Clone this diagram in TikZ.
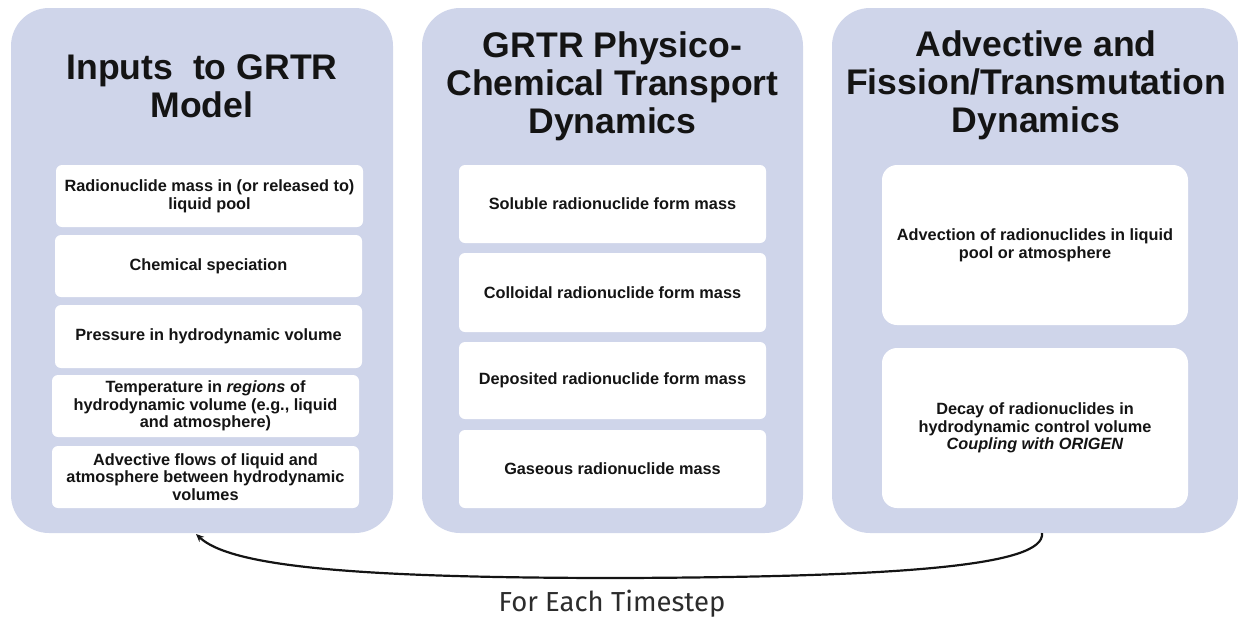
\documentclass[tikz,border=0pt]{standalone}
\usepackage{fontspec}
\setmainfont{Liberation Sans}
\newfontfamily\capfont{Fira Sans}
\usetikzlibrary{arrows.meta}
\definecolor{panel}{HTML}{CFD5EA}
\definecolor{ink}{HTML}{141414}
\begin{document}
\begin{tikzpicture}[x=1pt,y=-1pt,
  panelbox/.style={fill=panel, draw=none, rounded corners=38pt, inner sep=0pt},
  ibox/.style={fill=white, draw=none, rounded corners=6pt, inner sep=0pt, align=center,
    font=\fontsize{16.3}{17.7}\selectfont\bfseries, text=ink},
  bigbox/.style={ibox, rounded corners=15pt},
  ptitle/.style={align=center, inner sep=0pt, text=ink,
    font=\fontsize{35.6}{38}\selectfont\bfseries},
  loop/.style={draw=ink, line width=2.2pt, -{Stealth[length=8pt,width=7pt]}}
]
\useasboundingbox (0,0) rectangle (1238,619);
% panels
\node[panelbox, minimum width=382pt, minimum height=525pt] (p1) at (202,270.5) {};
\node[panelbox, minimum width=381pt, minimum height=525pt] (p2) at (612.5,270.5) {};
\node[panelbox, minimum width=406pt, minimum height=525pt] (p3) at (1035,270.5) {};
% titles
\node[ptitle] (t1) at (202,86) {Inputs\ \ to GRTR\\Model};
\node[ptitle] (t2) at (612.5,86) {GRTR Physico-\\Chemical Transport\\Dynamics};
\node[ptitle] (t3) at (1036,85) {Advective and\\Fission/Transmutation\\Dynamics};
% panel 1 boxes
\node[ibox, minimum width=307pt, minimum height=62pt] (a1) at (209.5,196) {Radionuclide mass in (or released to)\\liquid pool};
\node[ibox, minimum width=307pt, minimum height=62pt] (a2) at (208.5,266) {Chemical speciation};
\node[ibox, minimum width=307pt, minimum height=63pt] (a3) at (208.5,336.5) {Pressure in hydrodynamic volume};
\node[ibox, minimum width=307pt, minimum height=62pt] (a4) at (205.5,406) {Temperature in \textit{regions} of\\hydrodynamic volume (e.g., liquid\\and atmosphere)};
\node[ibox, minimum width=307pt, minimum height=62pt] (a5) at (205.5,477) {Advective flows of liquid and\\atmosphere between hydrodynamic\\volumes};
% panel 2 boxes
\node[ibox, minimum width=307pt, minimum height=78pt] (b1) at (612.5,204) {Soluble radionuclide form mass};
\node[ibox, minimum width=307pt, minimum height=79pt] (b2) at (612.5,292.5) {Colloidal radionuclide form mass};
\node[ibox, minimum width=307pt, minimum height=77pt] (b3) at (612.5,380.5) {Deposited radionuclide form mass};
\node[ibox, minimum width=307pt, minimum height=78pt] (b4) at (612.5,469) {Gaseous radionuclide mass};
% panel 3 boxes
\node[bigbox, minimum width=306pt, minimum height=160pt] (c1) at (1035,245) {Advection of radionuclides in liquid\\pool or atmosphere};
\node[bigbox, minimum width=306pt, minimum height=160pt] (c2) at (1035,428) {Decay of radionuclides in\\hydrodynamic control volume\\\textit{Coupling with ORIGEN}};
% loop connector
\coordinate (ls) at (1042,533);
\coordinate (lm) at (620,578);
\coordinate (le) at (196,534);
\draw[loop] (ls) .. controls (1046,566) and (900,577) .. (lm)
  .. controls (350,578) and (230,566) .. (le);
\node[font=\capfont\fontsize{27.5}{30}\selectfont, text=ink!90, inner sep=0pt] (lbl) at (612,604) {For Each Timestep};
\end{tikzpicture}
\end{document}
